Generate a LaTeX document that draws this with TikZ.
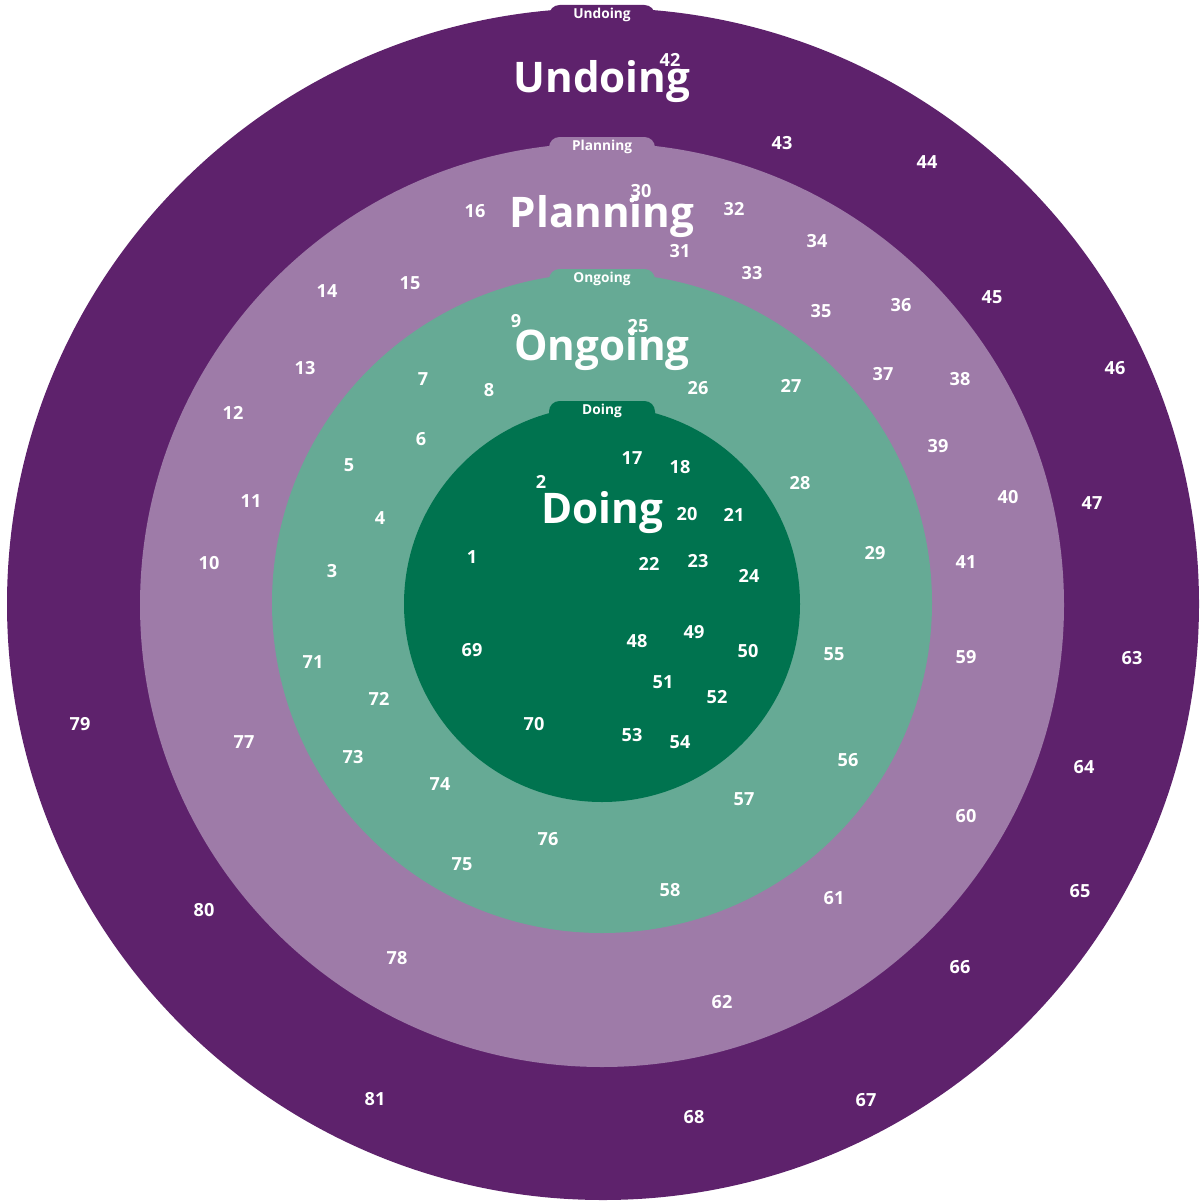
\documentclass[tikz,border=0pt]{standalone}
\usepackage{fontspec}
\setmainfont{Open Sans}
\usetikzlibrary{positioning}

\definecolor{undoingcol}{RGB}{94,34,108}
\definecolor{planningcol}{RGB}{158,123,168}
\definecolor{ongoingcol}{RGB}{102,170,149}
\definecolor{doingcol}{RGB}{0,115,79}

\begin{document}
\begin{tikzpicture}[
x=0.02cm, y=-0.02cm,
tab/.style={draw=none, rounded corners=6},
tabtext/.style={text=white, font=\fontsize{7.8}{9}\selectfont\bfseries, inner sep=0pt},
title/.style={text=white, font=\fontsize{24}{29}\selectfont\bfseries, inner sep=0pt},
num/.style={text=white, font=\fontsize{10.3}{12}\selectfont\bfseries, inner sep=0pt},
]
\useasboundingbox (0,0) rectangle (1203,1203);

% rings with tabs
\fill[undoingcol] (603,604) circle (596);
\fill[undoingcol, tab] (549,5) rectangle (655,40);
\fill[planningcol] (602,605) circle (462);
\fill[planningcol, tab] (549,137) rectangle (655,170);
\fill[ongoingcol] (602,603) circle (330);
\fill[ongoingcol, tab] (549,269) rectangle (655,300);
\fill[doingcol] (602,604) circle (198);
\fill[doingcol, tab] (549,401) rectangle (655,430);

\node[tabtext] (tab-undoing) at (602,15) {Undoing};
\node[tabtext] (tab-planning) at (602,147) {Planning};
\node[tabtext] (tab-ongoing) at (602,279) {Ongoing};
\node[tabtext] (tab-doing) at (602,411) {Doing};

% numbered points
\foreach \lbl/\px/\py in {
  42/670/60, 43/782/143, 44/927/162, 45/992/297, 46/1115/368, 47/1092/503,
  63/1132/658, 64/1084/767, 65/1080/891, 66/960/967, 67/866/1100,
  68/694/1117, 81/375/1099, 80/204/910, 79/80/724,
  16/475/211, 30/641/191, 31/680/251, 32/734/209, 33/752/273, 34/817/241,
  35/821/311, 36/901/305, 37/883/374, 38/960/379, 39/938/446, 40/1008/497,
  41/966/562, 59/966/657, 60/966/816, 61/834/898, 62/722/1002, 78/397/958,
  77/244/742, 10/209/563, 11/251/501, 12/233/413, 13/305/368, 14/327/291,
  15/410/283,
  9/516/321, 25/638/326, 26/698/388, 27/791/386, 7/423/379, 8/489/390,
  6/421/439, 5/349/465, 4/380/518, 3/332/571, 28/800/483, 29/875/553,
  55/834/654, 56/848/760, 57/744/799, 58/670/890, 76/548/839, 75/462/864,
  74/440/784, 73/353/757, 72/379/699, 71/313/662,
  17/632/458, 18/680/467, 2/541/482, 20/687/514, 21/734/515, 1/472/557,
  22/649/564, 23/698/561, 24/749/576, 69/472/650, 48/637/641, 49/694/632,
  50/748/651, 51/663/682, 52/717/697, 70/534/724, 53/632/735, 54/680/742}
  \node[num] (n\lbl) at (\px,\py) {\lbl};

\fill[white] (632,200) circle (2.5);
\fill[white] (632,333) circle (2.5);

% ring titles
\node[title] (undoing) at (602,82) {Undoing};
\node[title] (planning) at (602,217) {Planning};
\node[title] (ongoing) at (602,350) {Ongoing};
\node[title] (doing) at (602,513) {Doing};

\end{tikzpicture}
\end{document}
